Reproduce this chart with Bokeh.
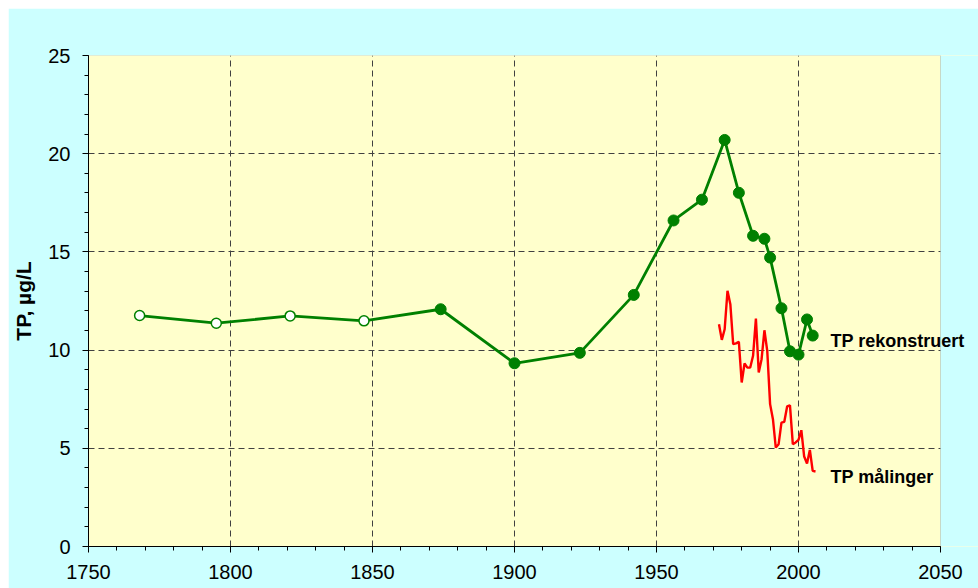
from bokeh.plotting import figure
from bokeh.models import FixedTicker, Label, BoxAnnotation, Range1d
from bokeh.embed import file_html
from bokeh.resources import INLINE

# Reconstructed TP (sediment based)
rec_years_open = [1768, 1795, 1821, 1847]
rec_tp_open = [11.76, 11.37, 11.74, 11.49]
rec_years = [1768, 1795, 1821, 1847, 1874, 1900, 1923, 1942, 1956, 1966,
             1974, 1979, 1984, 1988, 1990, 1994, 1997, 2000, 2003, 2005]
rec_tp = [11.76, 11.37, 11.74, 11.49, 12.08, 9.33, 9.86, 12.81, 16.6, 17.66,
          20.70, 18.01, 15.82, 15.67, 14.71, 12.13, 9.94, 9.77, 11.56, 10.74]
rec_years_filled = rec_years[4:]
rec_tp_filled = rec_tp[4:]

# Measured TP
meas_years = list(range(1972, 2007))
meas_tp = [11.32, 10.52, 11.06, 13.02, 12.34, 10.30, 10.34, 10.42, 8.35, 9.32,
           9.11, 9.11, 9.71, 11.61, 8.86, 9.54, 11.01, 9.96, 7.25, 6.48,
           5.04, 5.21, 6.31, 6.35, 7.13, 7.19, 5.21, 5.30, 5.43, 5.92,
           4.58, 4.23, 4.92, 3.85, 3.82]

x_major = [1750, 1800, 1850, 1900, 1950, 2000, 2050]
x_minor = list(range(1750, 2051, 10))
y_major = [0, 5, 10, 15, 20, 25]
y_minor = list(range(0, 26, 1))
x_start, x_end = 1750, 2050
y_start, y_end = 0, 25

FONT = "Liberation Sans"
CYAN = "#CCFFFF"

# frame: 852 px for 300 years; extended to the right edge so labels can overflow
x_view_end = x_start + (x_end - x_start) * 890 / 852

p = figure(width=970, height=580,
           x_range=Range1d(x_start, x_view_end), y_range=Range1d(y_start, y_end),
           output_backend="svg", toolbar_location=None,
           background_fill_color="#FFFFCC", border_fill_color=CYAN,
           outline_line_color=None,
           min_border_left=80, min_border_right=0,
           min_border_top=47, min_border_bottom=42)
p.styles = {"margin-left": "8px", "margin-top": "8px"}

# axes
p.xaxis.ticker = FixedTicker(ticks=x_major, minor_ticks=x_minor)
p.yaxis.ticker = FixedTicker(ticks=y_major, minor_ticks=y_minor)
p.xaxis.bounds = (x_start, x_end)
for ax in (p.xaxis[0], p.yaxis[0]):
    ax.axis_line_color = "black"
    ax.axis_line_width = 1
    ax.major_tick_line_color = "black"
    ax.minor_tick_line_color = "black"
    ax.major_tick_in = 0
    ax.minor_tick_in = 0
    ax.major_tick_out = 6
    ax.minor_tick_out = 4
    ax.major_label_text_font = FONT
    ax.major_label_text_font_size = "20px"
    ax.major_label_text_color = "black"
p.xaxis.major_label_standoff = 12
p.yaxis.major_label_standoff = 12
p.yaxis.axis_label = "TP, µg/L"
p.yaxis.axis_label_text_font = FONT
p.yaxis.axis_label_text_font_size = "21px"
p.yaxis.axis_label_text_font_style = "bold"
p.yaxis.axis_label_text_color = "black"
p.yaxis.axis_label_standoff = 10

# grid
p.xgrid.ticker = FixedTicker(ticks=[1800, 1850, 1900, 1950, 2000])
p.ygrid.ticker = FixedTicker(ticks=[5, 10, 15, 20, 25])
for g in (p.xgrid[0], p.ygrid[0]):
    g.grid_line_color = "#404040"
    g.grid_line_dash = "6 4"
    g.grid_line_width = 1

# hide the extension of the plotting area beyond 2050 and draw the plot-area border
p.add_layout(BoxAnnotation(left=x_end, fill_color=CYAN, fill_alpha=1.0,
                           line_color=None, level="underlay"))
p.add_layout(BoxAnnotation(left=x_start, right=x_end, bottom=y_start, top=y_end,
                           fill_alpha=0.0, line_color="#808080", line_width=1,
                           level="underlay"))

# series
p.line(meas_years, meas_tp, line_color="#FF0000", line_width=2.4)
p.line(rec_years, rec_tp, line_color="#008000", line_width=2.8)
p.scatter(rec_years_filled, rec_tp_filled, size=11, marker="circle",
          fill_color="#008000", line_color="#008000")
p.scatter(rec_years_open, rec_tp_open, size=10, marker="circle",
          fill_color="white", line_color="#008000", line_width=1.5)

# series labels
for txt, yv in (("TP rekonstruert", 10.44), ("TP målinger", 3.56)):
    p.add_layout(Label(x=2011.3, y=yv, text=txt, text_font=FONT,
                       text_font_size="18px", text_font_style="bold",
                       text_color="black", text_baseline="alphabetic",
                       text_align="left"))

open("out.html", "w").write(file_html(p, INLINE))
